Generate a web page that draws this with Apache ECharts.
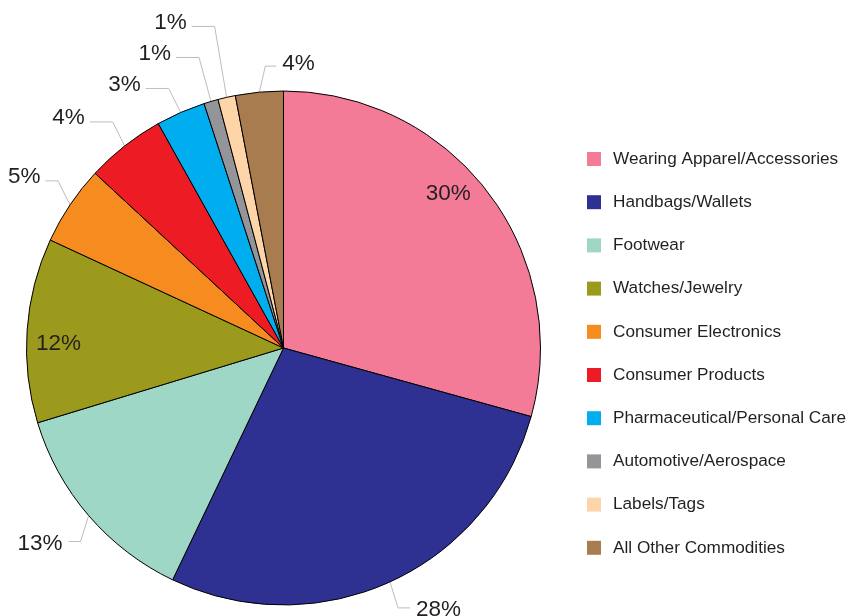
<!DOCTYPE html>
<html>
<head>
<meta charset="utf-8">
<script src="https://cdn.jsdelivr.net/npm/echarts@6/dist/echarts.min.js"></script>
<style>
html,body{margin:0;padding:0;background:#fff;}
#chart{width:850px;height:616px;}
</style>
</head>
<body>
<div id="chart"></div>
<script>
const categories = [
  "Wearing Apparel/Accessories",
  "Handbags/Wallets",
  "Footwear",
  "Watches/Jewelry",
  "Consumer Electronics",
  "Consumer Products",
  "Pharmaceutical/Personal Care",
  "Automotive/Aerospace",
  "Labels/Tags",
  "All Other Commodities"
];
const values = [29.3, 27.8, 13.2, 11.6, 5.0, 5.0, 3.1, 0.9, 1.1, 3.0];
const pctLabels = ["30%", "28%", "13%", "12%", "5%", "4%", "3%", "1%", "1%", "4%"];
const insideLabelIdx = [0, 3];
const rightSideLabelIdx = [9];
const colors = ["#F37B97", "#2E3192", "#9ED7C5", "#9C9A1C", "#F68B1F", "#ED1C24", "#00AEEF", "#939598", "#FDD5A8", "#A97C50"];

// layout / style constants
const FONT = "'Liberation Sans', Arial, sans-serif";
const FS = 22.5;
const CX = 283.5, CY = 348, R = 257;
const LEAD = {
  upperLeft:  {dx: 12, dy: 24, h: 23, gap: 5, lift: 4},
  upperRight: {dx: 6,  dy: 26, h: 11, gap: 6, lift: 2},
  lower:      {dx: 8,  dy: 26, h: 12, gap: 6, lift: -2},
  minSep: 31,
  minTextLeft: 8
};
const insideShift = {0: [-18, -15], 3: [4, 12]};

// leader-line layout derived from the slice angles
function buildLabelLayout() {
  const total = values.reduce((a, b) => a + b, 0);
  let cum = 0;
  const items = values.map((v, i) => {
    const a = (cum + v / 2) / total * Math.PI * 2;
    cum += v;
    const ux = Math.sin(a), uy = -Math.cos(a);
    const p0 = [CX + R * ux, CY + R * uy];
    const side = rightSideLabelIdx.indexOf(i) >= 0 ? 1 : (ux < 0 ? -1 : 1);
    const vs = uy < 0 ? -1 : 1;
    const st = vs > 0 ? LEAD.lower : (side < 0 ? LEAD.upperLeft : LEAD.upperRight);
    return {i, p0, side, vs, st, ey: p0[1] + vs * st.dy, ex: p0[0] + side * st.dx};
  }).filter(o => insideLabelIdx.indexOf(o.i) < 0);
  [-1, 1].forEach(side => {
    const upper = items.filter(o => o.side === side && o.vs < 0).sort((a, b) => b.ey - a.ey);
    for (let k = 1; k < upper.length; k++) upper[k].ey = Math.min(upper[k].ey, upper[k - 1].ey - LEAD.minSep);
    const lower = items.filter(o => o.side === side && o.vs > 0).sort((a, b) => a.ey - b.ey);
    for (let k = 1; k < lower.length; k++) lower[k].ey = Math.max(lower[k].ey, lower[k - 1].ey + LEAD.minSep);
  });
  const out = {};
  items.forEach(o => {
    const st = o.st;
    let endX = o.ex + o.side * st.h;
    if (o.side < 0) {
      const w = echarts.format.getTextRect
        ? echarts.format.getTextRect(pctLabels[o.i], FS + 'px ' + FONT).width
        : FS * 1.5;
      const textLeft = endX - st.gap - w;
      if (textLeft < LEAD.minTextLeft) endX += (LEAD.minTextLeft - textLeft);
      endX = Math.min(endX, o.ex);
    }
    out[o.i] = {
      x: endX + o.side * st.gap,
      y: o.ey - st.lift,
      align: o.side < 0 ? 'right' : 'left',
      verticalAlign: 'middle',
      labelLinePoints: [[o.p0[0], o.p0[1]], [o.ex, o.ey], [endX, o.ey]]
    };
  });
  return out;
}
const labelLayoutMap = buildLabelLayout();

const chart = echarts.init(document.getElementById('chart'), null, {renderer: 'canvas'});

const mainData = categories.map((c, i) => ({
  name: c,
  value: values[i],
  itemStyle: {color: colors[i]},
  label: {show: insideLabelIdx.indexOf(i) < 0},
  labelLine: {show: insideLabelIdx.indexOf(i) < 0}
}));
const overlayData = categories.map((c, i) => ({
  name: c,
  value: values[i],
  label: {show: insideLabelIdx.indexOf(i) >= 0}
}));

chart.setOption({
  animation: false,
  backgroundColor: '#fff',
  legend: {
    orient: 'vertical',
    left: 582,
    top: 145,
    data: categories,
    icon: 'rect',
    itemWidth: 14,
    itemHeight: 14,
    itemGap: 25.2,
    selectedMode: false,
    itemStyle: {borderWidth: 0},
    textStyle: {fontSize: 17.2, color: '#231f20', fontFamily: FONT, padding: [0, 0, 0, 7], lineHeight: 18}
  },
  series: [
    {
      type: 'pie',
      center: [CX, CY],
      radius: R,
      startAngle: 90,
      clockwise: true,
      minShowLabelAngle: 0,
      avoidLabelOverlap: false,
      emphasis: {disabled: true},
      itemStyle: {borderColor: '#000', borderWidth: 1},
      label: {
        show: true,
        position: 'outside',
        fontSize: FS,
        fontFamily: FONT,
        color: '#231f20',
        overflow: 'none',
        formatter: p => pctLabels[p.dataIndex]
      },
      labelLine: {show: true, length: 20, length2: 12, smooth: false, lineStyle: {color: '#bdbdbd', width: 1}},
      labelLayout: function (params) {
        return labelLayoutMap[params.dataIndex] || {};
      },
      data: mainData
    },
    {
      type: 'pie',
      center: [CX, CY],
      radius: [196, R],
      startAngle: 90,
      clockwise: true,
      silent: true,
      emphasis: {disabled: true},
      itemStyle: {color: 'rgba(0,0,0,0)', borderWidth: 0},
      label: {
        show: false,
        position: 'inside',
        fontSize: FS,
        fontFamily: FONT,
        color: '#231f20',
        formatter: p => pctLabels[p.dataIndex]
      },
      labelLine: {show: false},
      labelLayout: function (params) {
        const s = insideShift[params.dataIndex];
        return s ? {dx: s[0], dy: s[1]} : {};
      },
      data: overlayData
    }
  ]
});
</script>
</body>
</html>
